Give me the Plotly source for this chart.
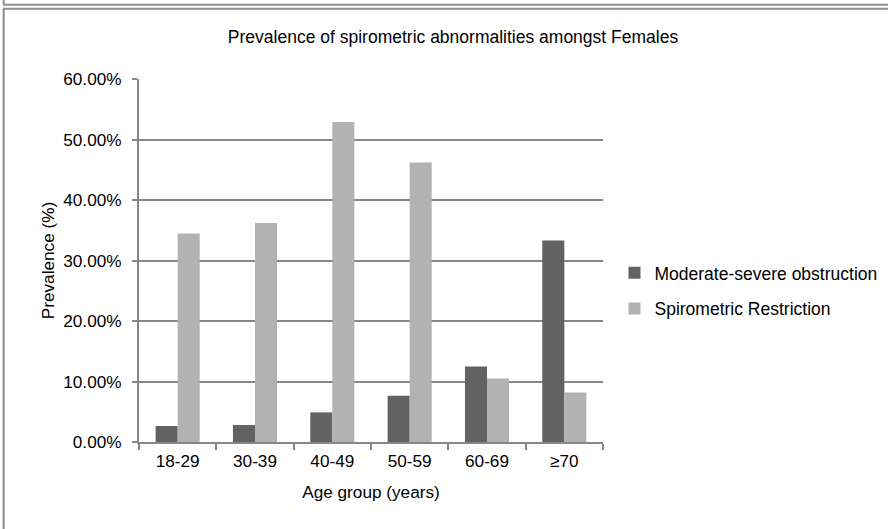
import plotly.graph_objects as go

categories = ["18-29", "30-39", "40-49", "50-59", "60-69", "≥70"]
obstruction = [0.0265, 0.028, 0.049, 0.0765, 0.125, 0.333]
restriction = [0.3445, 0.362, 0.529, 0.462, 0.105, 0.082]
series_names = ["Moderate-severe obstruction", "Spirometric Restriction"]
y_ticks = [0, 0.1, 0.2, 0.3, 0.4, 0.5, 0.6]

W, H = 888, 529
L, R, T, B = 139, 603.5, 78.7, 441.7

def px_x(p):
    return (p - L) / (R - L)

def px_y(p):
    return (B - p) / (B - T)

FONT = "Liberation Sans, Arial, sans-serif"
FS = 17.2
FS2 = 17.5
GRID = "#868686"

fig = go.Figure()
fig.add_trace(go.Bar(x=categories, y=obstruction, name=series_names[0],
                     marker=dict(color="#626262", line=dict(width=0)),
                     legendgroup="a"))
fig.add_trace(go.Bar(x=categories, y=restriction, name=series_names[1],
                     marker=dict(color="#b2b2b2", line=dict(width=0)),
                     legendgroup="b"))

shapes = [
    dict(type="line", xref="paper", yref="paper", x0=px_x(3), x1=px_x(900), y0=px_y(4.5), y1=px_y(4.5),
         line=dict(color="#8c8c8c", width=2)),
    dict(type="line", xref="paper", yref="paper", x0=px_x(3.5), x1=px_x(3.5), y0=px_y(-5), y1=px_y(4.5),
         line=dict(color="#8c8c8c", width=2)),
    dict(type="line", xref="paper", yref="paper", x0=px_x(3), x1=px_x(900), y0=px_y(8.5), y1=px_y(8.5),
         line=dict(color="#8c8c8c", width=2)),
    dict(type="line", xref="paper", yref="paper", x0=px_x(3.5), x1=px_x(3.5), y0=px_y(8.5), y1=px_y(540),
         line=dict(color="#8c8c8c", width=2)),
]

fig.update_layout(
    width=W, height=H,
    margin=dict(l=L, r=W - R, t=T, b=H - B, pad=0, autoexpand=False),
    paper_bgcolor="white", plot_bgcolor="white",
    font=dict(family=FONT, size=FS, color="#000000"),
    barmode="group", bargap=0.43, bargroupgap=0,
    title=dict(text="Prevalence of spirometric abnormalities amongst Females",
               x=453 / W, xanchor="center", y=1 - 37 / H, yanchor="middle",
               font=dict(family=FONT, size=FS2, color="#000000")),
    showlegend=True,
    legend=dict(x=px_x(615), xanchor="left", y=px_y(290.5), yanchor="middle",
                traceorder="grouped", tracegroupgap=10,
                font=dict(family=FONT, size=FS2, color="#000000"),
                bgcolor="rgba(0,0,0,0)", itemwidth=30),
    xaxis=dict(
        type="category", showgrid=False, showline=True, linecolor=GRID, linewidth=2,
        ticks="outside", ticklen=6, tickcolor=GRID, tickwidth=1.5, tickson="boundaries",
        ticklabelstandoff=2,
        tickfont=dict(family=FONT, size=FS, color="#000000"),
        title=dict(text="Age group (years)", font=dict(family=FONT, size=FS, color="#000000"), standoff=16),
        zeroline=False, automargin=False,
    ),
    yaxis=dict(
        range=[0, 0.6], tickvals=y_ticks, tickformat=".2%",
        showgrid=True, gridcolor=GRID, gridwidth=1.5,
        showline=True, linecolor=GRID, linewidth=2,
        ticks="outside", ticklen=5, tickcolor=GRID, tickwidth=1.5,
        ticklabelstandoff=7,
        tickfont=dict(family=FONT, size=FS, color="#000000"),
        title=dict(text="Prevalence (%)", font=dict(family=FONT, size=FS, color="#000000"), standoff=4),
        zeroline=False, automargin=False,
    ),
    shapes=shapes,
)

fig.write_html("out.html", config={"displayModeBar": False},
               post_script="document.body.style.margin='0';document.body.style.overflow='hidden';")
